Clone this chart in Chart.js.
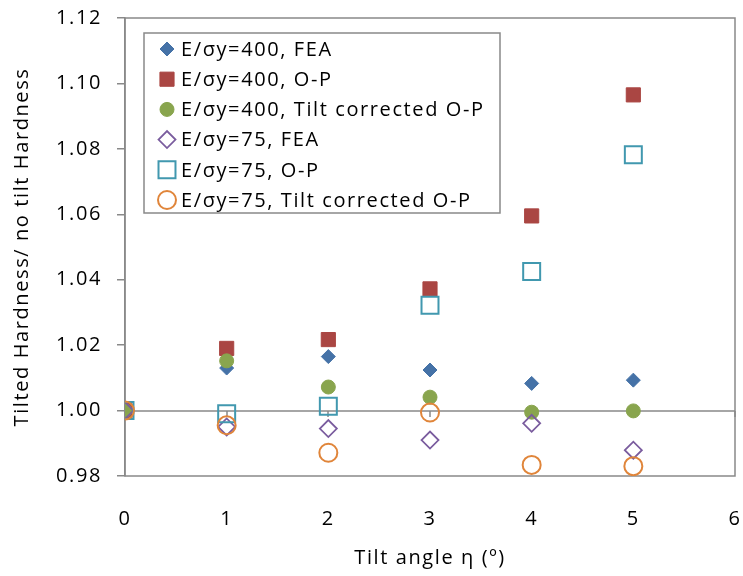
<!DOCTYPE html>
<html>
<head>
<meta charset="utf-8">
<script src="https://cdn.jsdelivr.net/npm/chart.js@4"></script>
<style>
  html, body { margin: 0; padding: 0; background: #fff; overflow: hidden; }
  #wrap { width: 743px; height: 576px; }
  #chart { display: block; width: 743px; height: 576px; }
</style>
</head>
<body>
<div id="wrap"><canvas id="chart" width="743" height="576"></canvas></div>
<script>
// tilt angle (deg) and hardness ratios
const tiltAngles = [0, 1, 2, 3, 4, 5]
const fea400 = [1.000, 1.0130, 1.0165, 1.0124, 1.0083, 1.0093]
const op400 = [1.000, 1.0190, 1.0217, 1.0372, 1.0595, 1.0965]
const corr400 = [1.000, 1.0152, 1.0072, 1.0041, 0.9995, 0.9999]
const fea75 = [1.000, 0.9950, 0.9945, 0.9910, 0.9961, 0.9879]
const op75 = [1.000, 0.9990, 1.0013, 1.0322, 1.0425, 1.0782]
const corr75 = [1.000, 0.9955, 0.9871, 0.9994, 0.9834, 0.9830]

const seriesNames = [
    'E/σy=400, FEA',
    'E/σy=400, O-P',
    'E/σy=400, Tilt corrected O-P',
    'E/σy=75, FEA',
    'E/σy=75, O-P',
    'E/σy=75, Tilt corrected O-P'
]
const xTicks = [0, 1, 2, 3, 4, 5, 6]
const yTicks = [0.98, 1.00, 1.02, 1.04, 1.06, 1.08, 1.10, 1.12]

const FONT = 'Open Sans'
const SPACING = '1.6px'
const axisGray = '#898989'

const canvas = document.querySelector('#chart')
const ctx = canvas.getContext('2d')

function points(values) {
    return tiltAngles.map((t, i) => ({x: t, y: values[i]}))
}

function series(i, values, style, radius, fill, stroke, bw) {
    return {
        label: seriesNames[i],
        data: points(values),
        pointStyle: style,
        pointRadius: radius,
        pointHoverRadius: radius,
        backgroundColor: fill,
        borderColor: stroke,
        pointBorderWidth: bw,
        showLine: false,
        order: 6 - i
    }
}

// wider letter spacing while drawing, the excel text is quite loose
const textSpacing = {
    id: 'textSpacing',
    beforeDraw(chart) {
        chart.ctx.letterSpacing = SPACING
    },
    afterDraw(chart) {
        chart.ctx.letterSpacing = '0px'
    }
}

// box round the plot area, plus the x axis line at 1.00 with its ticks
const plotBorder = {
    id: 'plotBorder',
    beforeDatasetsDraw(chart) {
        const a = chart.chartArea
        const c = chart.ctx
        const sx = chart.scales.x
        const y0 = Math.round(chart.scales.y.getPixelForValue(1.0))
        c.save()
        c.strokeStyle = axisGray
        c.lineWidth = 1.5
        c.strokeRect(a.left, a.top, a.right - a.left, a.bottom - a.top)
        c.beginPath()
        c.moveTo(a.left, y0)
        c.lineTo(a.right, y0)
        xTicks.forEach(t => {
            const px = Math.round(sx.getPixelForValue(t))
            c.moveTo(px, y0)
            c.lineTo(px, y0 + 6)
        })
        c.stroke()
        c.restore()
    }
}

// legend sits inside the plot, top left
const insideLegend = {
    id: 'insideLegend',
    afterDatasetsDraw(chart) {
        const c = chart.ctx
        const bx = 144, by = 33, bw = 356, bh = 180
        c.save()
        c.fillStyle = '#fff'
        c.fillRect(bx, by, bw, bh)
        c.strokeStyle = axisGray
        c.lineWidth = 1.5
        c.strokeRect(bx, by, bw, bh)
        c.font = `20px "${FONT}"`
        c.textBaseline = 'middle'
        chart.data.datasets.forEach((ds, i) => {
            const cy = 49 + i * 30.2
            c.fillStyle = ds.backgroundColor
            c.strokeStyle = ds.borderColor
            c.lineWidth = ds.pointBorderWidth
            Chart.helpers.drawPoint(c, {pointStyle: ds.pointStyle, radius: ds.pointRadius, borderWidth: ds.pointBorderWidth}, 167, cy)
            c.fillStyle = '#000'
            c.fillText(ds.label, 181, cy + 1)
        })
        c.restore()
    }
}

const myChart = new Chart(ctx, {
    type: 'scatter',
    data: {
        datasets: [
            series(0, fea400, 'rectRot', 7, '#4572A7', '#4572A7', 1),
            series(1, op400, 'rect', 10, '#AA4643', '#AA4643', 1),
            series(2, corr400, 'circle', 7, '#89A54E', '#89A54E', 1),
            series(3, fea75, 'rectRot', 8.5, 'rgba(0,0,0,0)', '#7A5C9E', 1.8),
            series(4, op75, 'rect', 12, 'rgba(0,0,0,0)', '#4198AF', 2),
            series(5, corr75, 'circle', 9, 'rgba(0,0,0,0)', '#E0853A', 2)
        ]
    },
    options: {
        responsive: false,
        devicePixelRatio: 1,
        animation: false,
        events: [],
        // big markers would otherwise push the plot area in
        layout: {autoPadding: false, padding: {left: 0, top: 18, right: 8, bottom: 0}},
        plugins: {
            legend: {display: false},
            tooltip: {enabled: false}
        },
        scales: {
            x: {
                type: 'linear',
                position: 'bottom',
                min: 0,
                max: 6,
                afterBuildTicks: axis => { axis.ticks = xTicks.map(v => ({value: v})) },
                afterFit: axis => {
                    axis.height = 100
                    axis.paddingLeft = 0
                    axis.paddingRight = 0
                },
                grid: {display: false, drawTicks: false},
                border: {display: false},
                ticks: {
                    padding: 31,
                    color: '#000',
                    font: {family: FONT, size: 20},
                    callback: v => String(v)
                },
                title: {
                    display: true,
                    text: 'Tilt angle η (º)',
                    color: '#000',
                    font: {family: FONT, size: 20},
                    padding: {top: 0, bottom: 6}
                }
            },
            y: {
                type: 'linear',
                position: 'left',
                min: 0.98,
                max: 1.12,
                afterBuildTicks: axis => { axis.ticks = yTicks.map(v => ({value: v})) },
                afterFit: axis => {
                    axis.width = 125
                    axis.paddingTop = 0
                    axis.paddingBottom = 0
                },
                grid: {drawOnChartArea: false, drawTicks: true, tickLength: 8, color: axisGray, lineWidth: 1.5},
                border: {display: true, color: axisGray, width: 1.5},
                ticks: {
                    padding: 15,
                    color: '#000',
                    font: {family: FONT, size: 20},
                    callback: v => v.toFixed(2)
                },
                title: {
                    display: true,
                    text: 'Tilted Hardness/ no tilt Hardness',
                    color: '#000',
                    font: {family: FONT, size: 20},
                    padding: {top: 10, bottom: 0}
                }
            }
        }
    },
    plugins: [textSpacing, plotBorder, insideLegend]
})
</script>
</body>
</html>
